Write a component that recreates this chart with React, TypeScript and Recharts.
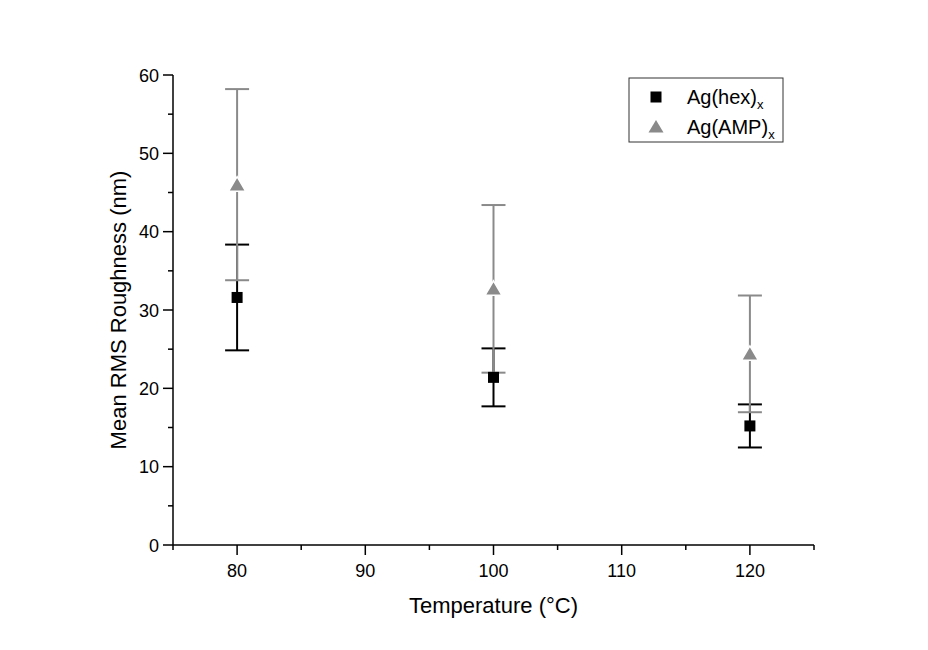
import React from "react";
import { ComposedChart, Scatter, XAxis, YAxis, ErrorBar, Legend, Label } from "recharts";

const temps = [80, 100, 120];
const hexMean = [31.6, 21.4, 15.2];
const hexErr = [6.75, 3.7, 2.75];
const ampMean = [46.0, 32.7, 24.4];
const ampErr = [12.2, 10.7, 7.45];
const xTicks = [75, 80, 85, 90, 95, 100, 105, 110, 115, 120, 125];
const yTicks = [0, 5, 10, 15, 20, 25, 30, 35, 40, 45, 50, 55, 60];
const seriesNames = ["Ag(hex)", "Ag(AMP)"];

const GRAY = "#8a8a8a";
const FONT = "'Liberation Sans', Arial, sans-serif";

const hexData = temps.map((t, i) => ({ t, v: hexMean[i], e: hexErr[i] }));
const ampData = temps.map((t, i) => ({ t, v: ampMean[i], e: ampErr[i] }));

const XTick = (props: any) => {
  const { x, y, payload } = props;
  const major = payload.value % 10 === 0;
  return (
    <g>
      <line x1={x} y1={y} x2={x} y2={y + (major ? 10 : 5)} stroke="#000" strokeWidth={1.5} />
      {major && (
        <text x={x} y={y + 32} textAnchor="middle" fontSize={18} fontFamily={FONT} fill="#000">
          {payload.value}
        </text>
      )}
    </g>
  );
};

const YTick = (props: any) => {
  const { x, y, payload } = props;
  const major = payload.value % 10 === 0;
  return (
    <g>
      <line x1={x} y1={y} x2={x - (major ? 10 : 5)} y2={y} stroke="#000" strokeWidth={1.5} />
      {major && (
        <text x={x - 14} y={y + 6.5} textAnchor="end" fontSize={18} fontFamily={FONT} fill="#000">
          {payload.value}
        </text>
      )}
    </g>
  );
};

const Square = (props: any) => {
  const { cx, cy } = props;
  return <rect x={cx - 5.5} y={cy - 5.5} width={11} height={11} fill="#000" />;
};

const Triangle = (props: any) => {
  const { cx, cy } = props;
  return (
    <path
      d={`M${cx},${cy - 8} L${cx + 8.5},${cy + 6.5} L${cx - 8.5},${cy + 6.5} Z`}
      fill={GRAY}
      stroke="#fff"
      strokeWidth={1.5}
    />
  );
};

const LegendBox = () => (
  <svg width={156} height={66} style={{ display: "block" }}>
    <rect x={1} y={1} width={154} height={64} fill="none" stroke="#333" strokeWidth={1} />
    <rect x={28 - 5.5} y={20 - 5.5} width={11} height={11} fill="#000" />
    <text x={59} y={27} fontSize={20} fontFamily={FONT} fill="#000">
      {seriesNames[0]}
      <tspan fontSize={13} dy={5}>x</tspan>
    </text>
    <path d={`M28,${50 - 7} L35.5,${50 + 5.5} L20.5,${50 + 5.5} Z`} fill={GRAY} />
    <text x={59} y={57} fontSize={20} fontFamily={FONT} fill="#000">
      {seriesNames[1]}
      <tspan fontSize={13} dy={5}>x</tspan>
    </text>
  </svg>
);

export default function App() {
  return (
    <div style={{ width: 912, height: 634, background: "#fff" }}>
      <ComposedChart width={912} height={634} margin={{ top: 67, right: 106, left: 105, bottom: 27 }}>
        <XAxis
          type="number"
          dataKey="t"
          domain={[75, 125]}
          ticks={xTicks}
          allowDataOverflow
          height={70}
          tickLine={false}
          tickSize={0}
          tickMargin={0}
          tick={<XTick />}
          axisLine={{ stroke: "#000", strokeWidth: 1.5 }}
          interval={0}
        >
          <Label
            content={(p: any) => {
              const vb = p.viewBox;
              return (
                <text
                  x={vb.x + vb.width / 2}
                  y={vb.y + 68}
                  textAnchor="middle"
                  fontSize={22}
                  fontFamily={FONT}
                  fill="#000"
                >
                  Temperature (°C)
                </text>
              );
            }}
          />
        </XAxis>
        <YAxis
          type="number"
          dataKey="v"
          domain={[0, 60]}
          ticks={yTicks}
          allowDataOverflow
          width={60}
          tickLine={false}
          tickSize={0}
          tickMargin={0}
          tick={<YTick />}
          axisLine={{ stroke: "#000", strokeWidth: 1.5 }}
          interval={0}
        >
          <Label
            content={(p: any) => {
              const vb = p.viewBox;
              const x = vb.x + 13;
              const y = vb.y + vb.height / 2;
              return (
                <text
                  x={x}
                  y={y}
                  transform={`rotate(-90 ${x} ${y})`}
                  textAnchor="middle"
                  fontSize={22}
                  fontFamily={FONT}
                  fill="#000"
                >
                  Mean RMS Roughness (nm)
                </text>
              );
            }}
          />
        </YAxis>
        <Legend
          content={() => <LegendBox />}
          wrapperStyle={{ position: "absolute", left: 620, top: 69, width: 0, height: 0, overflow: "visible" }}
        />
        <Scatter name={seriesNames[0]} data={hexData} dataKey="v" fill="#000" shape={<Square />} isAnimationActive={false}>
          <ErrorBar dataKey="e" direction="y" width={12} stroke="#000" strokeWidth={2} isAnimationActive={false} />
        </Scatter>
        <Scatter name={seriesNames[1]} data={ampData} dataKey="v" fill={GRAY} shape={<Triangle />} isAnimationActive={false}>
          <ErrorBar dataKey="e" direction="y" width={12} stroke={GRAY} strokeWidth={2} isAnimationActive={false} />
        </Scatter>
      </ComposedChart>
    </div>
  );
}
